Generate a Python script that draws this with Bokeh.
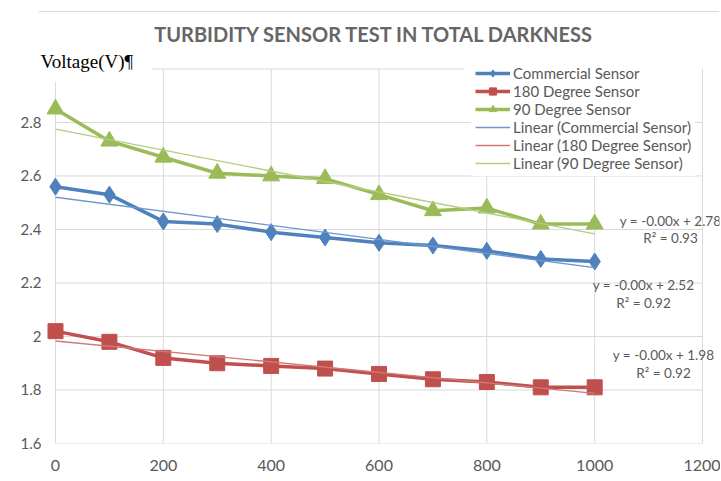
import numpy as np
from bokeh.plotting import figure
from bokeh.models import ColumnDataSource, Legend, LegendItem, FixedTicker, Label
from bokeh.core.properties import value
from bokeh.embed import file_html
from bokeh.resources import INLINE

# ---- data ----
x_vals = [0, 100, 200, 300, 400, 500, 600, 700, 800, 900, 1000]
commercial = [2.56, 2.53, 2.43, 2.42, 2.39, 2.37, 2.35, 2.34, 2.32, 2.29, 2.28]
deg180 = [2.02, 1.98, 1.92, 1.90, 1.89, 1.88, 1.86, 1.84, 1.83, 1.81, 1.81]
deg90 = [2.85, 2.73, 2.67, 2.61, 2.60, 2.59, 2.53, 2.47, 2.48, 2.42, 2.42]
series_names = ["Commercial Sensor", "180 Degree Sensor", "90 Degree Sensor"]
eq_texts = ["y = -0.00x + 2.52", "y = -0.00x + 1.98", "y = -0.00x + 2.78"]
r2_texts = ["R² = 0.92", "R² = 0.92", "R² = 0.93"]
x_ticks = [0, 200, 400, 600, 800, 1000, 1200]
y_ticks = [1.6, 1.8, 2.0, 2.2, 2.4, 2.6, 2.8, 3.0]
y_tick_labels = ["1.6", "1.8", "2", "2.2", "2.4", "2.6", "2.8", ""]
title_text = "TURBIDITY  SENSOR  TEST IN TOTAL DARKNESS"
y_title = "Voltage(V)¶"

colors = ["#4F81BD", "#C0504D", "#9BBB59"]
trend_colors = ["#6E98CC", "#D07A78", "#B3CD80"]
markers = ["diamond", "square", "triangle"]
msizes = [17, 15, 17]
GRAY = "#595959"
GRID = "#D9D9D9"
FONT = "Lato"

X0, X1 = -31.5, 1231.5
Y0, Y1 = 1.6, 3.2259

p = figure(width=720, height=473, x_range=(X0, X1), y_range=(Y0, Y1),
           output_backend="svg", toolbar_location=None,
           min_border_left=38, min_border_right=1,
           min_border_top=8, min_border_bottom=26)
p.outline_line_color = None
p.background_fill_color = "white"
p.border_fill_color = "white"
p.xgrid.visible = False
p.ygrid.visible = False

for ax in (p.xaxis[0], p.yaxis[0]):
    ax.axis_line_color = None
    ax.major_tick_line_color = None
    ax.minor_tick_line_color = None
    ax.major_label_text_color = GRAY
    ax.major_label_text_font = FONT
p.xaxis.major_label_text_font_size = "16px"
p.yaxis.major_label_text_font_size = "15px"
p.xaxis.ticker = FixedTicker(ticks=x_ticks)
p.yaxis.ticker = FixedTicker(ticks=y_ticks)
p.yaxis.major_label_overrides = {t: l for t, l in zip(y_ticks, y_tick_labels)}
p.xaxis.major_label_standoff = 10
p.yaxis.major_tick_out = 0
p.yaxis.major_tick_in = 0
p.yaxis.minor_tick_out = 0
p.yaxis.minor_tick_in = 0
p.yaxis.major_label_standoff = -3

# ---- gridlines (drawn within the plot area only) ----
vx = x_ticks
vy_top = [2.952] + [y_ticks[-1]] * (len(x_ticks) - 1)
p.segment(x0=vx, y0=[y_ticks[0]] * len(vx), x1=vx, y1=vy_top,
          line_color=GRID, line_width=1, level="underlay")
hy = y_ticks
hx_start = [x_ticks[0]] * (len(y_ticks) - 1) + [180]
hx_end = [x_ticks[-1]] * (len(y_ticks) - 1) + [757]
p.segment(x0=hx_start, y0=hy, x1=hx_end, y1=hy,
          line_color=GRID, line_width=1, level="underlay")
# chart-area top border
p.segment(x0=[X0], y0=[3.2148], x1=[X1], y1=[3.2148], line_color=GRID,
          line_width=1, level="underlay")

data_sets = [commercial, deg180, deg90]
items_main = []
items_trend = []
xa = np.array(x_vals, dtype=float)
for name, ys, c, m, s in zip(series_names, data_sets, colors, markers, msizes):
    src = ColumnDataSource(dict(x=x_vals, y=ys))
    ln = p.line("x", "y", source=src, line_color=c, line_width=3.5)
    sc = p.scatter("x", "y", source=src, marker=m, size=s, fill_color=c, line_color=c)
    items_main.append(LegendItem(label=name, renderers=[ln, sc]))
for name, ys, c in zip(series_names, data_sets, trend_colors):
    slope, icpt = np.polyfit(xa, np.array(ys), 1)
    tx = [x_vals[0], x_vals[-1]]
    ty = [icpt + slope * tx[0], icpt + slope * tx[1]]
    tl = p.line(tx, ty, line_color=c, line_width=1.3)
    items_trend.append(LegendItem(label="Linear (%s)" % name, renderers=[tl]))

legend = Legend(items=items_main + items_trend, location=(433, 267),
                background_fill_color="white", background_fill_alpha=1.0,
                border_line_alpha=0, label_text_font=FONT,
                label_text_font_size="15px", label_text_color=GRAY,
                glyph_width=35, glyph_height=18, label_height=18,
                label_standoff=3, spacing=0, padding=4, margin=0)
p.add_layout(legend)

# trendline equations
eq_src = ColumnDataSource(dict(
    x=[1090.6, 1127.7, 1140.7, 1090.6, 1127.7, 1140.7],
    y=[2.193, 1.930, 2.433, 2.126, 1.863, 2.367],
    t=eq_texts + r2_texts))
p.text("x", "y", text="t", source=eq_src, text_font=value(FONT),
       text_font_size="13.5px", text_color=GRAY, text_align="center",
       text_baseline="middle")

p.add_layout(Label(x=601.0, y=3.130, text=title_text, text_font=FONT,
                   text_font_size="20px", text_font_style="bold",
                   text_color="#666666", text_align="center", text_baseline="middle"))
p.add_layout(Label(x=-27.8, y=3.026, text=y_title, text_font="Liberation Serif",
                   text_font_size="19px", text_color="black",
                   text_align="left", text_baseline="middle"))

open("out.html", "w").write(file_html(p, INLINE))
